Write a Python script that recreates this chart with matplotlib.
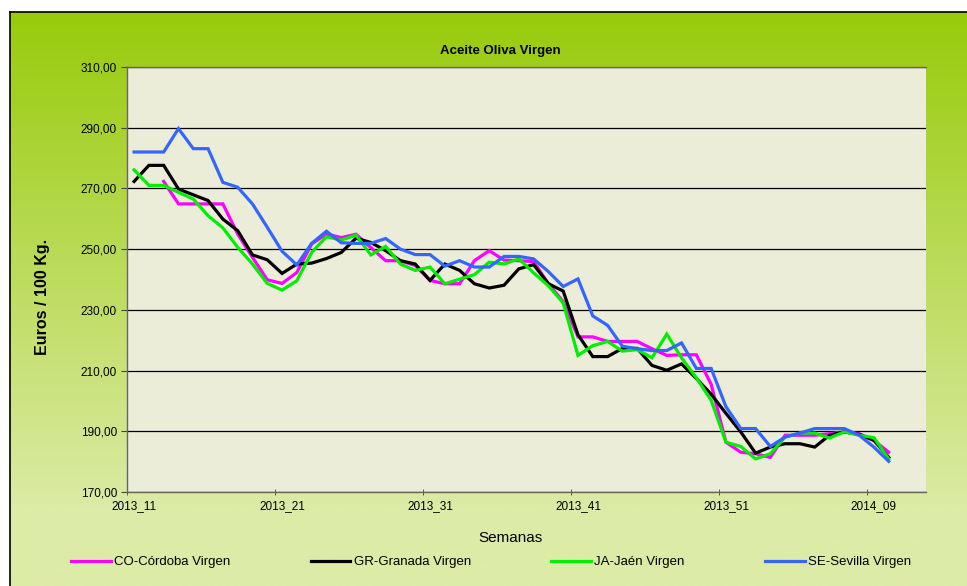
import numpy as np
import matplotlib
matplotlib.use("Agg")
import matplotlib.pyplot as plt
from matplotlib.colors import LinearSegmentedColormap

plt.rcParams["font.family"] = ["Liberation Sans", "DejaVu Sans"]

# weeks 2013_11 ... 2014_12 (last two without data)
weeks = [f"2013_{w:02d}" for w in range(11, 53)] + [f"2014_{w:02d}" for w in range(1, 13)]

cordoba = [np.nan, np.nan, 272.3, 264.9, 264.9, 264.9, 264.9, 255.0, 247.3, 239.9,
           238.7, 242.3, 251.7, 255.0, 253.8, 254.9, 250.5, 246.2, 246.2, 244.6,
           239.7, 238.6, 238.6, 246.2, 249.5, 246.4, 246.2, 245.9, 238.6, 232.7,
           221.1, 221.1, 219.6, 219.6, 219.6, 217.2, 215.0, 215.2, 215.2, 205.5,
           186.4, 183.1, 182.6, 181.4, 188.7, 188.7, 188.7, 189.2, 189.8, 189.2,
           187.0, 183.1]
granada = [272.3, 277.6, 277.6, 269.8, 267.9, 266.0, 259.9, 256.1, 248.1, 246.5,
           242.0, 245.1, 245.4, 246.9, 248.9, 253.6, 252.2, 249.5, 246.2, 245.1,
           239.7, 245.1, 243.0, 238.6, 237.2, 238.1, 243.5, 244.9, 238.6, 236.2,
           221.8, 214.6, 214.6, 217.3, 217.3, 211.7, 210.1, 212.2, 207.4, 202.2,
           195.9, 189.8, 182.8, 184.8, 185.9, 185.9, 184.8, 188.7, 189.8, 189.0,
           187.0, 181.4]
jaen = [276.1, 271.0, 271.0, 268.7, 266.5, 261.0, 257.0, 250.6, 245.1, 238.7,
        236.5, 239.6, 248.9, 254.1, 253.0, 254.6, 248.1, 250.9, 245.1, 243.0,
        244.1, 238.6, 240.1, 241.6, 245.7, 245.1, 246.8, 242.2, 237.9, 232.3,
        215.0, 218.2, 219.6, 216.4, 216.9, 214.2, 222.0, 214.2, 207.6, 200.2,
        186.4, 185.0, 180.9, 182.6, 188.1, 189.4, 189.4, 187.8, 189.8, 188.7,
        187.9, 180.9]
sevilla = [282.0, 282.0, 282.0, 289.7, 283.1, 283.1, 272.0, 270.4, 264.9, 257.2,
           249.3, 244.8, 251.9, 255.9, 252.1, 251.9, 251.9, 253.5, 250.0, 248.2,
           248.2, 244.4, 246.2, 244.1, 244.1, 247.6, 247.6, 246.8, 242.6, 237.7,
           240.2, 228.0, 224.9, 218.0, 217.2, 216.6, 216.6, 219.1, 210.7, 210.7,
           198.1, 190.9, 190.9, 185.0, 188.1, 189.4, 190.9, 190.9, 190.9, 188.7,
           184.8, 180.1]

series_names = ["CO-Córdoba Virgen", "GR-Granada Virgen", "JA-Jaén Virgen", "SE-Sevilla Virgen"]
series_colors = ["#FF00FF", "#000000", "#00EE00", "#3366FF"]
y_ticks = [170, 190, 210, 230, 250, 270, 290, 310]

W, H = 967, 586
fig = plt.figure(figsize=(W / 100, H / 100), dpi=100)

# chart-area gradient background
bg = fig.add_axes([10 / W, 0, 1 - 10 / W, 1 - 12 / H], zorder=-10)
grad = np.clip(np.linspace(0, 1.15, 256), 0, 1).reshape(-1, 1)
cmap = LinearSegmentedColormap.from_list("bg", ["#98CB0B", "#DCEBA6"])
bg.imshow(grad, aspect="auto", cmap=cmap, extent=[0, 1, 0, 1], origin="upper")
bg.set_xlim(0, 1)
bg.set_ylim(0, 1)
bg.set_xticks([])
bg.set_yticks([])
for side in ["right", "bottom"]:
    bg.spines[side].set_visible(False)
for side in ["left", "top"]:
    bg.spines[side].set_color("black")
    bg.spines[side].set_linewidth(1.2)

ax = fig.add_axes([126.7 / W, 1 - 492 / H, 799 / W, 425 / H])
ax.set_facecolor("#ECEDD9")

x = np.arange(len(weeks))
for vals, name, col in zip([cordoba, granada, jaen, sevilla], series_names, series_colors):
    ax.plot(x[:len(vals)], vals, color=col, lw=2.3, label=name, solid_joinstyle="miter")

ax.set_xlim(-0.5, len(weeks) - 0.5)
ax.set_ylim(170, 310)

ax.set_yticks(y_ticks)
ax.set_yticklabels([f"{v:.2f}".replace(".", ",") for v in y_ticks], fontsize=8.5)
ax.yaxis.grid(True, color="black", lw=0.9)
ax.set_axisbelow(True)

lab_idx = list(range(0, len(weeks), 10))
ax.set_xticks(lab_idx)
ax.set_xticklabels([weeks[i] for i in lab_idx], fontsize=8.5)
ax.tick_params(axis="x", length=0, pad=6)
ax.set_xticks(np.arange(-0.5, len(weeks), 10), minor=True)
ax.tick_params(axis="x", which="minor", length=4, direction="inout", color="#444444")
ax.tick_params(axis="y", length=4, color="#444444", pad=3)

for side in ["left", "bottom", "top"]:
    ax.spines[side].set_color("#666666")
    ax.spines[side].set_linewidth(1.0)
ax.spines["right"].set_visible(False)

fig.text(500 / W, 1 - 51 / H, "Aceite Oliva Virgen", ha="center", va="center",
         fontsize=9.5, fontweight="bold")
fig.text(42 / W, 1 - 297 / H, "Euros / 100 Kg.", ha="center", va="center",
         rotation=90, fontsize=11.5, fontweight="bold")
fig.text(510 / W, 1 - 538 / H, "Semanas", ha="center", va="center", fontsize=11)

fig.legend(loc="center left", bbox_to_anchor=(71 / W, 1 - 562 / H), ncol=4,
           frameon=False, fontsize=9.5, handlelength=3.0, handletextpad=0.25,
           columnspacing=6.1, borderpad=0, borderaxespad=0)

fig.savefig("out.png", dpi=100)
